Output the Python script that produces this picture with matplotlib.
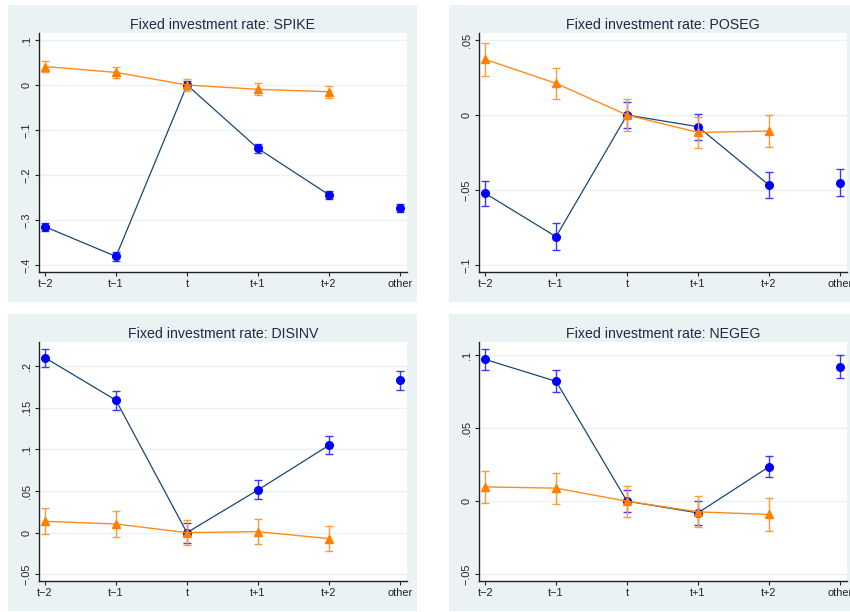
import matplotlib
matplotlib.use("Agg")
import matplotlib.pyplot as plt
from matplotlib.patches import Rectangle

plt.rcParams['font.family'] = ['Liberation Sans', 'DejaVu Sans']

# data
xlabels = ['t\u22122', 't\u22121', 't', 't+1', 't+2', 'other']
titles = ['Fixed investment rate: SPIKE', 'Fixed investment rate: POSEG',
          'Fixed investment rate: DISINV', 'Fixed investment rate: NEGEG']

spike_blue = [-0.315, -0.381, 0.0, -0.141, -0.244, -0.274]
spike_blue_err = [0.009, 0.009, 0.009, 0.009, 0.009, 0.009]
spike_orange = [0.041, 0.028, 0.0, -0.0096, -0.015]
spike_orange_err = [0.013, 0.013, 0.013, 0.013, 0.013]

poseg_blue = [-0.0522, -0.0811, 0.0, -0.0078, -0.0467, -0.0451]
poseg_blue_err = [0.0082, 0.009, 0.0087, 0.0086, 0.0084, 0.0089]
poseg_orange = [0.0371, 0.0211, 0.0, -0.0116, -0.0107]
poseg_orange_err = [0.0108, 0.0104, 0.0105, 0.0105, 0.0107]

disinv_blue = [0.210, 0.159, 0.0, 0.0512, 0.1048, 0.1828]
disinv_blue_err = [0.0108, 0.0114, 0.012, 0.0114, 0.011, 0.011]
disinv_orange = [0.0136, 0.0104, 0.0, 0.0012, -0.0072]
disinv_orange_err = [0.0154, 0.0152, 0.015, 0.015, 0.0154]

negeg_blue = [0.097, 0.082, 0.0, -0.008, 0.0235, 0.092]
negeg_blue_err = [0.0072, 0.0076, 0.0077, 0.008, 0.0073, 0.0078]
negeg_orange = [0.0098, 0.0089, 0.0, -0.0073, -0.0091]
negeg_orange_err = [0.0108, 0.0106, 0.0105, 0.0106, 0.011]

yticks = [[0.1, 0, -0.1, -0.2, -0.3, -0.4],
          [0.05, 0, -0.05, -0.1],
          [0.2, 0.15, 0.1, 0.05, 0, -0.05],
          [0.1, 0.05, 0, -0.05]]
yticklabels = [['.1', '0', '\u2212.1', '\u2212.2', '\u2212.3', '\u2212.4'],
               ['.05', '0', '\u2212.05', '\u2212.1'],
               ['.2', '.15', '.1', '.05', '0', '\u2212.05'],
               ['.1', '.05', '0', '\u2212.05']]
ylims = [(-0.4162, 0.1149), (-0.10487, 0.05447), (-0.0577, 0.2292), (-0.0544, 0.1091)]

blues = [spike_blue, poseg_blue, disinv_blue, negeg_blue]
blue_errs = [spike_blue_err, poseg_blue_err, disinv_blue_err, negeg_blue_err]
oranges = [spike_orange, poseg_orange, disinv_orange, negeg_orange]
orange_errs = [spike_orange_err, poseg_orange_err, disinv_orange_err, negeg_orange_err]

W, H = 850, 612
fig = plt.figure(figsize=(8.5, 6.12), dpi=100)
fig.patch.set_facecolor('white')

BG = '#eaf2f3'
# panel background and plot area, in pixels (left, top, right, bottom)
panels = [(8, 5, 417, 302), (449, 5, 858, 302), (8, 314, 417, 611), (449, 314, 858, 611)]
plots = [(38.7, 33.3, 407, 272.3), (478.7, 33.3, 847, 272.3),
         (38.5, 341.7, 407, 580.7), (478.7, 341.7, 847, 580.7)]

for i in range(4):
    l, t, r, b = panels[i]
    fig.patches.append(Rectangle((l / W, 1 - b / H), (r - l) / W, (b - t) / H,
                                 transform=fig.transFigure, facecolor=BG,
                                 edgecolor='none', zorder=-10))
    l, t, r, b = plots[i]
    ax = fig.add_axes([l / W, 1 - b / H, (r - l) / W, (b - t) / H])
    ax.set_facecolor('white')
    x = list(range(6))
    # blue series
    ax.plot(x[:5], blues[i][:5], color='#1a476f', lw=0.9, zorder=2)
    ax.errorbar(x, blues[i], yerr=blue_errs[i], fmt='none', ecolor='#3a3aff',
                elinewidth=1.0, capsize=3, capthick=1.0, zorder=3)
    ax.plot(x, blues[i], 'o', color='#0000ff', ms=5.5, zorder=4)
    # orange series
    ax.plot(x[:5], oranges[i], color='#ff8c1a', lw=1.0, zorder=5)
    ax.errorbar(x[:5], oranges[i], yerr=orange_errs[i], fmt='none', ecolor='#ff9a3c',
                elinewidth=1.0, capsize=3, capthick=1.0, zorder=6)
    ax.plot(x[:5], oranges[i], '^', color='#ff7f00', ms=6, zorder=7)

    ax.set_xlim(-0.09, 5.1)
    ax.set_ylim(*ylims[i])
    ax.set_xticks(x)
    ax.set_xticklabels(xlabels)
    ax.set_yticks(yticks[i])
    ax.set_yticklabels(yticklabels[i], rotation=90, va='center')
    ax.tick_params(axis='both', labelsize=7.8, length=3, width=0.8, pad=2,
                   color='#222222', labelcolor='#222222')
    ax.grid(axis='y', color=BG, lw=1.0, zorder=1)
    ax.set_axisbelow(True)
    for s in ['top', 'right']:
        ax.spines[s].set_visible(False)
    for s in ['left', 'bottom']:
        ax.spines[s].set_color('#222222')
        ax.spines[s].set_linewidth(1.0)
    ax.set_title(titles[i], fontsize=10.2, color='#1e2b40', pad=3)

fig.savefig('out.png', dpi=100, facecolor='white')
